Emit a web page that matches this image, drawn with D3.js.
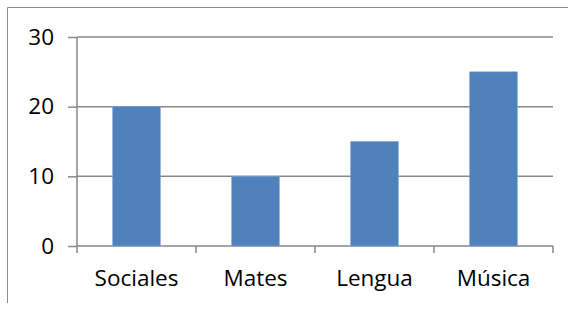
<!DOCTYPE html>
<html>
<head>
<meta charset="utf-8">
<script src="https://cdn.jsdelivr.net/npm/d3@7"></script>
<style>
  body { margin: 0; background: #fff; }
  .axis text { font-family: "Open Sans", sans-serif; font-size: 22.5px; fill: #000; }
</style>
</head>
<body>
<script>
const categories = ["Sociales", "Mates", "Lengua", "Música"];
const values = [20, 10, 15, 25];
const yTicks = [0, 10, 20, 30];

const margin = {top: 37, right: 25, bottom: 65, left: 77};
const W = 578, H = 311;
const width = W - margin.left - margin.right,
    height = H - margin.top - margin.bottom;

const svg = d3.select('body').append('svg')
    .attr('width', W)
    .attr('height', H);

// cropped outer chart frame
svg.append('path')
    .attr('d', 'M7.5,303 V7.5 H568')
    .attr('fill', 'none')
    .attr('stroke', '#8c8c8c')
    .attr('stroke-width', 1);

const g = svg.append('g')
    .attr('transform', `translate(${margin.left}, ${margin.top})`);

const scaleX = d3.scaleBand()
    .domain(categories)
    .range([0, width])
    .paddingInner(0.6)
    .paddingOuter(0.3);

const scaleY = d3.scaleLinear()
    .domain([0, 30])
    .range([height, 0]);

// gridlines
g.append('g')
    .selectAll('line')
    .data(yTicks)
    .enter()
    .append('line')
    .attr('x1', 0)
    .attr('x2', width)
    .attr('y1', d => scaleY(d))
    .attr('y2', d => scaleY(d))
    .attr('stroke', '#878787')
    .attr('stroke-width', 1.5);

const bars = g.append('g')
    .selectAll('rect')
    .data(values)
    .enter()
    .append('rect')
    .attr('fill', '#4f81bd')
    .attr('stroke', '#7fa3d3')
    .attr('stroke-width', 0.6)
    .attr('x', (d, i) => scaleX(categories[i]))
    .attr('width', scaleX.bandwidth())
    .attr('y', d => scaleY(d))
    .attr('height', d => height - scaleY(d));

const yAxis = d3.axisLeft(scaleY)
    .tickValues(yTicks)
    .tickSize(9)
    .tickPadding(14);

const yAxisGroup = g.append('g')
    .attr('class', 'axis y-axis')
    .call(yAxis);
yAxisGroup.select('.domain').remove();
yAxisGroup.append('line')
    .attr('x1', 0).attr('x2', 0)
    .attr('y1', 0).attr('y2', height)
    .attr('stroke', '#878787')
    .attr('stroke-width', 1.5);
yAxisGroup.selectAll('.tick line')
    .attr('stroke', '#878787')
    .attr('stroke-width', 1.5);

// category boundary ticks
const bounds = [0, ...categories.map(c => scaleX(c) - scaleX.step() * 0.3 + scaleX.step())];
g.append('g')
    .selectAll('line')
    .data(bounds)
    .enter()
    .append('line')
    .attr('x1', d => d).attr('x2', d => d)
    .attr('y1', height).attr('y2', height + 7)
    .attr('stroke', '#878787')
    .attr('stroke-width', 1.5);

const xAxis = d3.axisBottom(scaleX)
    .tickSize(0)
    .tickPadding(24);

const xAxisGroup = g.append('g')
    .attr('class', 'axis x-axis')
    .attr('transform', `translate(0, ${height})`)
    .call(xAxis);
xAxisGroup.select('.domain').remove();
</script>
</body>
</html>
